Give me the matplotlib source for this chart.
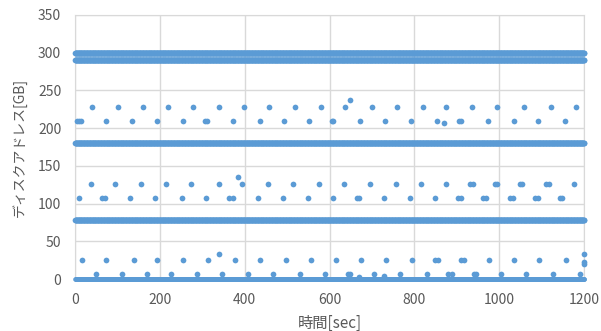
#! /usr/bin/env python3

import numpy as np
import matplotlib
matplotlib.use("Agg")
import matplotlib.pyplot as plt

plt.rcParams["font.family"] = ["Noto Sans CJK JP", "DejaVu Sans"]

# dense bands: one access per second at these addresses
bandLevels = [0, 78, 180, 290, 300]
bandTimes = np.arange(0, 1201, 1)

# sparse accesses
x228 = [39, 100, 160, 220, 277, 338, 399, 458, 519, 579, 636, 699, 758, 819,
        875, 935, 995, 1058, 1121, 1181]
x210 = [5, 9, 14, 73, 134, 193, 255, 307, 311, 373, 436, 493, 552, 605, 609,
        672, 731, 791, 854, 905, 909, 973, 1035, 1092, 1155]
x126 = [37, 95, 156, 214, 274, 338, 394, 455, 513, 576, 635, 694, 756, 816,
        874, 931, 937, 990, 994, 1049, 1054, 1109, 1116, 1175]
x108 = [9, 63, 71, 130, 189, 251, 309, 362, 371, 432, 490, 548, 607, 664, 670,
        728, 790, 849, 903, 910, 962, 969, 1024, 1032, 1084, 1090, 1143, 1147]
x25 = [16, 73, 139, 194, 255, 314, 377, 435, 497, 556, 615, 674, 733, 794,
       849, 856, 910, 916, 975, 1035, 1094, 1157]
x7 = [49, 110, 169, 226, 288, 347, 408, 467, 529, 588, 644, 648, 705, 766,
      829, 880, 888, 940, 944, 1005, 1064, 1126, 1189]
sparseLevels = {228: x228, 210: x210, 126: x126, 108: x108, 25: x25, 7: x7}

# odd ones
outX = [648, 870, 383, 339, 669, 729, 1199, 1199, 1199]
outY = [237, 207, 135, 33, 3, 4, 33, 23, 20]

blue = "#5B9BD5"
grey = "#595959"
dot = 17

fig = plt.figure(figsize=(6.01, 3.31), dpi=100)
ax = fig.add_axes([0.125, 0.157, 0.847, 0.798])

for lvl in bandLevels:
    ax.scatter(bandTimes, np.full(len(bandTimes), lvl), s=dot if lvl else 11,
               color=blue, linewidths=0, zorder=3, clip_on=False)
for lvl, xs in sparseLevels.items():
    ax.scatter(xs, [lvl] * len(xs), s=dot, color=blue, linewidths=0, zorder=3,
               clip_on=False)
ax.scatter(outX, outY, s=dot, color=blue, linewidths=0, zorder=3, clip_on=False)

ax.set_xlim(0, 1200)
ax.set_ylim(0, 350)
ax.set_xticks(range(0, 1201, 200))
ax.set_yticks(range(0, 351, 50))
ax.grid(True, color="#D9D9D9", linewidth=1)
ax.set_axisbelow(True)
for sp in ax.spines.values():
    sp.set_color("#D9D9D9")
ax.tick_params(axis="x", length=0, labelsize=10, colors=grey, pad=10)
ax.tick_params(axis="y", length=0, labelsize=10, colors=grey, pad=10)

ax.set_xlabel("時間[sec]", fontsize=11, color=grey, labelpad=6)
ax.set_ylabel("ディスクアドレス[GB]", fontsize=10, color=grey, labelpad=8)

fig.savefig("out.png", dpi=100)
